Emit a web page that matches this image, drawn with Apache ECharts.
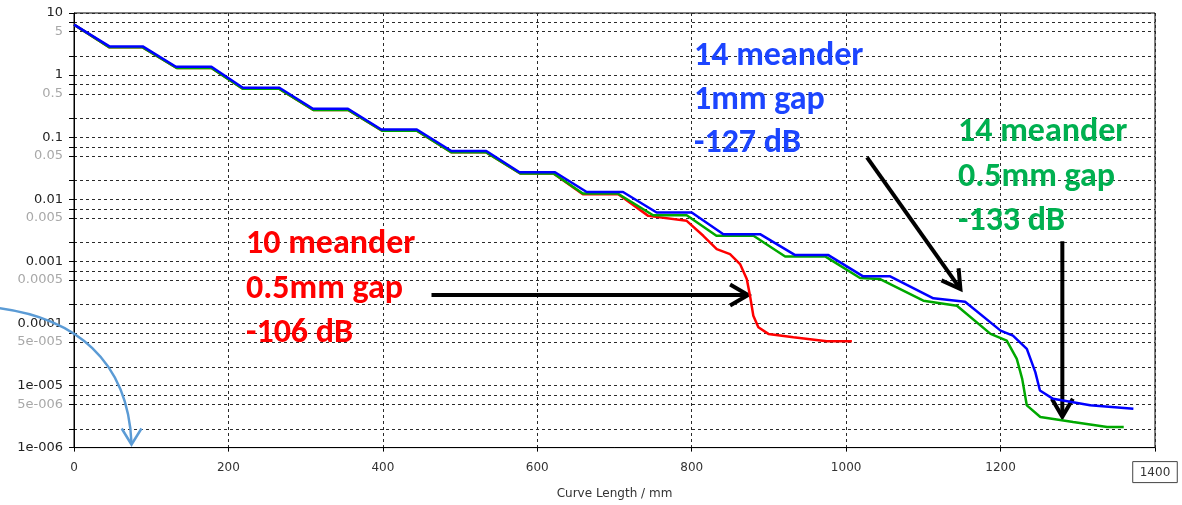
<!DOCTYPE html>
<html>
<head>
<meta charset="utf-8">
<script src="https://cdn.jsdelivr.net/npm/echarts@6/dist/echarts.min.js"></script>
<style>
  html, body { margin: 0; padding: 0; background: #fff; }
  #chart { width: 1182px; height: 505px; }
</style>
</head>
<body>
<div id="chart"></div>
<script>
// Coupling magnitude along the curve length for three meander layouts.
// 14 meander, 1 mm gap
const blueLength = [0, 45.9, 89, 132, 178, 218.7, 266, 309.5, 354.8, 398, 444, 488.8, 534, 577, 623, 664, 711, 754.6, 800, 841, 888.5, 934, 977, 1022, 1057, 1113, 1154, 1200, 1216, 1234, 1245, 1251, 1268, 1316, 1372];
const blueValue = [6.5, 2.9, 2.9, 1.36, 1.36, 0.624, 0.624, 0.287, 0.287, 0.133, 0.133, 0.0598, 0.0598, 0.0272, 0.0272, 0.0131, 0.0131, 0.00612, 0.00612, 0.00274, 0.00274, 0.00126, 0.00126, 0.000573, 0.000573, 0.000254, 0.000224, 7.66e-5, 6.37e-5, 3.9e-5, 1.64e-5, 8.3e-6, 6.1e-6, 4.8e-6, 4.24e-6];

// 14 meander, 0.5 mm gap
const greenLength = [0, 46, 89, 133, 178, 219, 266, 310, 355, 399, 444, 489, 534, 578, 621, 659, 704, 750, 793.5, 832, 880, 921, 972.8, 1018, 1044, 1100, 1143.5, 1187, 1208, 1221, 1228, 1234, 1251.5, 1294, 1338, 1359.5];
const greenValue = [6.5, 2.8, 2.8, 1.3, 1.3, 0.6, 0.6, 0.275, 0.275, 0.127, 0.127, 0.057, 0.057, 0.026, 0.026, 0.01236, 0.01236, 0.00553, 0.00553, 0.00258, 0.00258, 0.0012, 0.0012, 0.000538, 0.000518, 0.000232, 0.000193, 6.78e-5, 5.3e-5, 2.69e-5, 1.28e-5, 4.78e-6, 3.11e-6, 2.59e-6, 2.15e-6, 2.15e-6];

// 10 meander, 0.5 mm gap
const redLength = [0, 46, 89, 133, 178, 219, 266, 310, 355, 399, 444, 489, 534, 578, 621, 659, 705, 743.7, 793.5, 815, 832.4, 849.6, 862.6, 871.3, 875.5, 879.8, 886.3, 899.3, 931.7, 975, 1007.4];
const redValue = [6.5, 2.8, 2.8, 1.3, 1.3, 0.6, 0.6, 0.275, 0.275, 0.127, 0.127, 0.057, 0.057, 0.026, 0.026, 0.01205, 0.01205, 0.0054, 0.00449, 0.00258, 0.00157, 0.00131, 0.000904, 0.000519, 0.00028, 0.000133, 8.69e-5, 6.78e-5, 6.0e-5, 5.18e-5, 5.15e-5];

// Axis ticks and labels
const xTicks = [0, 200, 400, 600, 800, 1000, 1200, 1400];
const yGridValues = [1e-6, 2e-6, 5e-6, 7e-6, 1e-5, 2e-5, 5e-5, 7e-5, 1e-4, 2e-4, 5e-4, 7e-4, 1e-3, 2e-3, 5e-3, 7e-3, 0.01, 0.02, 0.05, 0.07, 0.1, 0.2, 0.5, 0.7, 1, 2, 5, 7, 10];
const yLabelValues = [1e-6, 5e-6, 1e-5, 5e-5, 1e-4, 5e-4, 1e-3, 5e-3, 0.01, 0.05, 0.1, 0.5, 1, 5, 10];
const yLabelTexts = ['1e-006', '5e-006', '1e-005', '5e-005', '0.0001', '0.0005', '0.001', '0.005', '0.01', '0.05', '0.1', '0.5', '1', '5', '10'];
const yLabelMajor = [true, false, true, false, true, false, true, false, true, false, true, false, true, false, true];

const AXIS_FONT = '"DejaVu Sans", Verdana, sans-serif';
const NOTE_FONT = 'Carlito, Calibri, Lato, sans-serif';

function yLabelFor(val) {
  let i = yLabelValues.findIndex(v => Math.abs(Math.log10(v) - Math.log10(val)) < 1e-6);
  if (i < 0) i = yLabelValues.findIndex(v => Math.abs(Math.log10(v) - val) < 1e-6);
  if (i < 0) return '';
  return (yLabelMajor[i] ? '{maj|' : '{min|') + yLabelTexts[i] + '}';
}

const zip = (xs, ys) => xs.map((x, i) => [x, ys[i]]);

const dashed = { type: [3, 3], color: '#2a2a2a', width: 1 };

const option = {
  animation: false,
  backgroundColor: '#fff',
  grid: { left: 74, right: 27, top: 13, bottom: 56, show: true, borderColor: '#000', borderWidth: 1, backgroundColor: 'transparent' },
  xAxis: {
    type: 'value', min: xTicks[0], max: xTicks[xTicks.length - 1], interval: 200,
    name: 'Curve Length / mm', nameLocation: 'middle', nameGap: 37,
    nameTextStyle: { color: '#333', fontSize: 12, fontFamily: AXIS_FONT },
    axisLine: { show: true, lineStyle: { color: '#000', width: 1 } },
    axisTick: { show: true, inside: false, length: 4, lineStyle: { color: '#000' } },
    axisLabel: {
      margin: 14, color: '#333', fontSize: 12, fontFamily: AXIS_FONT,
      formatter: v => (v === xTicks[xTicks.length - 1] ? '{box|' + v + '}' : String(v)),
      rich: {
        box: { color: '#333', fontSize: 12, fontFamily: AXIS_FONT, borderColor: '#444', borderWidth: 1, padding: [5, 7, 4, 7] }
      }
    },
    splitLine: { show: true, lineStyle: dashed }
  },
  yAxis: {
    type: 'log', logBase: 10, min: 1e-6, max: 10,
    axisLine: { show: true, lineStyle: { color: '#000', width: 1 } },
    axisTick: { show: true, inside: false, length: 5, lineStyle: { color: '#000' }, customValues: yGridValues },
    axisLabel: {
      margin: 11, fontSize: 13, fontFamily: AXIS_FONT, customValues: yLabelValues,
      formatter: yLabelFor,
      rich: {
        maj: { color: '#222', fontSize: 13, fontFamily: AXIS_FONT },
        min: { color: '#a8a8a8', fontSize: 13, fontFamily: AXIS_FONT }
      }
    },
    splitLine: { show: true, lineStyle: dashed },
    minorTick: { show: false },
    minorSplitLine: { show: false }
  },
  series: [
    { name: '10 meander 0.5mm gap', type: 'line', data: zip(redLength, redValue), showSymbol: false, z: 3,
      lineStyle: { color: '#ff0000', width: 2.5 }, itemStyle: { color: '#ff0000' } },
    { name: '14 meander 0.5mm gap', type: 'line', data: zip(greenLength, greenValue), showSymbol: false, z: 4,
      lineStyle: { color: '#00a800', width: 2.5 }, itemStyle: { color: '#00a800' } },
    { name: '14 meander 1mm gap', type: 'line', data: zip(blueLength, blueValue), showSymbol: false, z: 5,
      lineStyle: { color: '#0000ff', width: 2.5 }, itemStyle: { color: '#0000ff' } }
  ]
};

const chart = echarts.init(document.getElementById('chart'), null, { renderer: 'canvas' });
chart.setOption(option);

// Annotation arrows, anchored in data space (curve length mm, magnitude)
const arrows = [
  { from: [463, 2.87e-4], to: [873, 2.87e-4] },
  { from: [1027, 0.0473], to: [1148, 3.58e-4] },
  { from: [1280, 0.00211], to: [1280, 3.15e-6] }
];

const toPx = p => chart.convertToPixel({ xAxisIndex: 0, yAxisIndex: 0 }, p);

function arrowGraphic(a) {
  const s = toPx(a.from), t = toPx(a.to);
  const dx = t[0] - s[0], dy = t[1] - s[1];
  const len = Math.hypot(dx, dy);
  const ux = dx / len, uy = dy / len;
  const nx = -uy, ny = ux;
  const L = 18, W = 10.5;
  return {
    type: 'group', silent: true, z: 100,
    children: [
      { type: 'polyline', shape: { points: [s, [t[0] - ux * 2, t[1] - uy * 2]] },
        style: { stroke: '#000', lineWidth: 4, lineCap: 'butt' } },
      { type: 'polyline',
        shape: { points: [[t[0] - ux * L + nx * W, t[1] - uy * L + ny * W], t, [t[0] - ux * L - nx * W, t[1] - uy * L - ny * W]] },
        style: { stroke: '#000', lineWidth: 4, lineJoin: 'miter', lineCap: 'butt', fill: null } }
    ]
  };
}

function note(lines, color, x, ys) {
  return lines.map((txt, i) => ({
    type: 'text', silent: true, z: 100, x: x, y: ys[i],
    style: { text: txt, fill: color, font: 'bold 34px ' + NOTE_FONT, textAlign: 'left', textVerticalAlign: 'middle' }
  }));
}

const graphics = [
  ...arrows.map(arrowGraphic),
  ...note(['14 meander', '1mm gap', '-127 dB'], '#1c45ff', 694, [56, 100, 143]),
  ...note(['10 meander', '0.5mm gap', '-106 dB'], '#ff0000', 246, [244, 289, 333]),
  ...note(['14 meander', '0.5mm gap', '-133 dB'], '#00b050', 958, [132, 177, 221]),
  // curved pointer at the lower left
  { type: 'bezierCurve', silent: true, z: 100,
    shape: { x1: -2, y1: 308, cpx1: 75, cpy1: 318, cpx2: 128, cpy2: 360, x2: 131.5, y2: 443 },
    style: { stroke: '#5b9bd5', lineWidth: 2.5, fill: null } },
  { type: 'polyline', silent: true, z: 100,
    shape: { points: [[121.7, 428.5], [131.5, 444.5], [141.5, 428.5]] },
    style: { stroke: '#5b9bd5', lineWidth: 2.5, fill: null, lineJoin: 'miter' } }
];

chart.setOption({ graphic: graphics });
</script>
</body>
</html>
